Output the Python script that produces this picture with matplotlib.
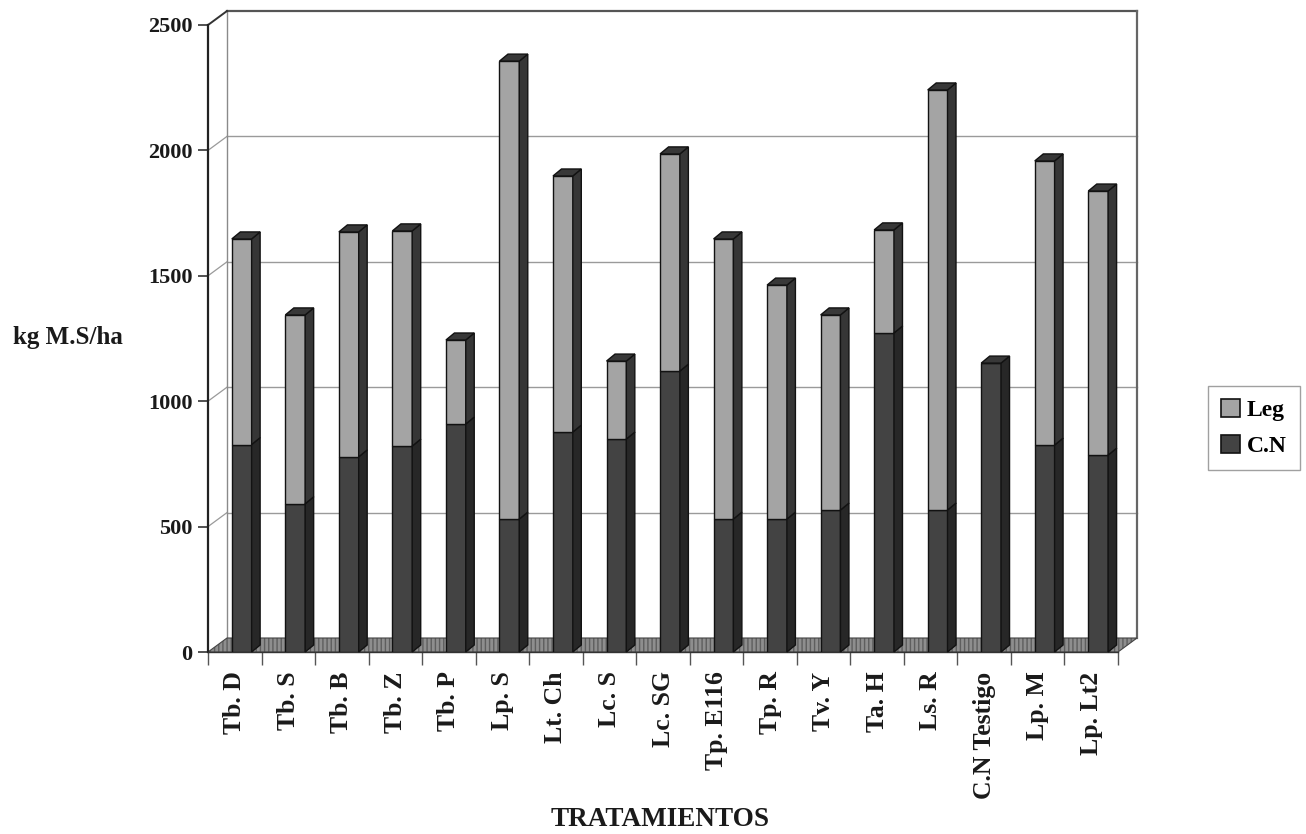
import matplotlib
matplotlib.use("Agg")
import matplotlib.pyplot as plt
from matplotlib.patches import Polygon, Patch
from matplotlib.lines import Line2D
from matplotlib.transforms import IdentityTransform
import numpy as np

plt.rcParams['font.family'] = ['Liberation Serif', 'DejaVu Serif']
plt.rcParams['font.weight'] = 'bold'

categories = ["Tb. D", "Tb. S", "Tb. B", "Tb. Z", "Tb. P", "Lp. S", "Lt. Ch", "Lc. S",
              "Lc. SG", "Tp. E116", "Tp. R", "Tv. Y", "Ta. H", "Ls. R", "C.N Testigo",
              "Lp. M", "Lp. Lt2"]
cn = [827, 591, 778, 821, 909, 530, 877, 849, 1120, 530, 530, 566, 1272, 566, 1152, 825, 785]
total = [1647, 1344, 1675, 1679, 1244, 2356, 1898, 1160, 1986, 1647, 1463, 1344, 1683, 2241, 1152, 1958, 1838]
leg = [t - c for t, c in zip(total, cn)]
yticks = [0, 500, 1000, 1500, 2000, 2500]
series_names = ["Leg", "C.N"]

W, H = 1306, 834
fig = plt.figure(figsize=(W / 100, H / 100), dpi=100)
ax = fig.add_axes([208 / W, (H - 652) / H, 910 / W, 627 / H])
n = len(categories)
ax.set_xlim(0, n)
ax.set_ylim(0, 2500)
ax.set_autoscale_on(False)
ax.patch.set_visible(False)
for s in ['top', 'right']:
    ax.spines[s].set_visible(False)
ax.spines['left'].set_color('#222222')
ax.spines['left'].set_linewidth(1.6)
ax.spines['bottom'].set_color('#333333')
ax.spines['bottom'].set_linewidth(1.0)

col_cn, col_cn_side = '#434343', '#272727'
col_leg, col_leg_side = '#a4a4a4', '#363636'
col_top = '#383838'
edge = '#121212'

WALL_DX, WALL_DY = 19, 14
BAR_DX, BAR_DY = 8.5, 7

fig.canvas.draw()
T = ax.transData


def disp(x, y):
    return T.transform((x, y))


def add_poly(pts, **kw):
    p = Polygon(np.array(pts), closed=True, transform=IdentityTransform(), clip_on=False, **kw)
    ax.add_artist(p)
    return p


def add_line(pts, **kw):
    pts = np.array(pts)
    l = Line2D(pts[:, 0], pts[:, 1], transform=IdentityTransform(), clip_on=False, **kw)
    ax.add_artist(l)
    return l

# back wall
bl = disp(0, 0) + [WALL_DX, WALL_DY]
br = disp(n, 0) + [WALL_DX, WALL_DY]
tl = disp(0, 2500) + [WALL_DX, WALL_DY]
tr = disp(n, 2500) + [WALL_DX, WALL_DY]
for v in yticks[1:-1]:
    a = disp(0, v) + [WALL_DX, WALL_DY]
    b = disp(n, v) + [WALL_DX, WALL_DY]
    add_line([a, b], color='#9a9a9a', lw=1.0, zorder=0.6)
    f = disp(0, v)
    add_line([f, a], color='#9a9a9a', lw=0.9, zorder=0.6)
add_line([bl, tl], color='#8a8a8a', lw=1.0, zorder=0.7)
add_line([tl, tr], color='#555555', lw=1.6, zorder=0.7)
add_line([tr, br], color='#666666', lw=1.6, zorder=0.7)
add_line([disp(0, 2500), tl], color='#333333', lw=1.4, zorder=0.7)

# floor
f0, f1 = disp(0, 0), disp(n, 0)
floor = [f0, f1, f1 + [WALL_DX, WALL_DY], f0 + [WALL_DX, WALL_DY]]
add_poly(floor, facecolor='#8e8e8e', edgecolor='#5e5e5e', hatch='||||', lw=0, zorder=0.8)
add_poly(floor, facecolor='none', edgecolor='#444444', lw=0.8, zorder=0.85)

# bars (front faces via ax.bar)
xc = np.arange(n) + 0.63
bw = 0.37
ax.bar(xc, cn, width=bw, color=col_cn, edgecolor=edge, linewidth=1.0, zorder=3, label="C.N")
ax.bar(xc, leg, bottom=cn, width=bw, color=col_leg, edgecolor=edge, linewidth=1.0, zorder=3, label="Leg")

# side and top faces
for i in range(n):
    xl, xr = xc[i] - bw / 2, xc[i] + bw / 2
    segs = [(0, cn[i], col_cn_side), (cn[i], total[i], col_leg_side)]
    for y0, y1, c in segs:
        if y1 - y0 <= 0:
            continue
        p0, p1 = disp(xr, y0), disp(xr, y1)
        add_poly([p0, p1, p1 + [BAR_DX, BAR_DY], p0 + [BAR_DX, BAR_DY]],
                 facecolor=c, edgecolor=edge, lw=1.0, zorder=3)
    q0, q1 = disp(xl, total[i]), disp(xr, total[i])
    add_poly([q0, q1, q1 + [BAR_DX, BAR_DY], q0 + [BAR_DX, BAR_DY]],
             facecolor=col_top, edgecolor=edge, lw=1.0, zorder=3)

# ticks
ax.set_yticks(yticks)
ax.set_yticklabels([str(v) for v in yticks], fontsize=16, fontweight='bold', color='#1a1a1a')
ax.tick_params(axis='y', length=7, width=1.2, pad=4, color='#333333')
ax.set_xticks(np.arange(n) + 0.5)
ax.set_xticklabels(categories, rotation=90, fontsize=18.5, fontweight='bold', color='#1a1a1a', va='top')
ax.set_xticks(np.arange(n + 1), minor=True)
ax.tick_params(axis='x', which='major', length=0, pad=14)
ax.tick_params(axis='x', which='minor', length=9, width=1.0, color='#555555')

fig.text(68 / W, 1 - 338 / H, "kg M.S/ha", ha='center', va='center', fontsize=18,
         fontweight='bold', color='#1a1a1a')
fig.text(660 / W, 1 - 820 / H, "TRATAMIENTOS", ha='center', va='center', fontsize=19.5,
         fontweight='bold', color='#1a1a1a')

handles = [Patch(facecolor=col_leg, edgecolor=edge, linewidth=1.2),
           Patch(facecolor=col_cn, edgecolor=edge, linewidth=1.2)]
lg = fig.legend(handles, series_names, loc='center', bbox_to_anchor=(1254 / W, 1 - 428 / H),
                fontsize=17, frameon=True, fancybox=False, handlelength=0.8, handleheight=0.8,
                handletextpad=0.3, labelspacing=0.6, borderpad=0.55)
lg.get_frame().set_edgecolor('#888888')
lg.get_frame().set_linewidth(1.0)
for t in lg.get_texts():
    t.set_fontweight('bold')

fig.savefig("out.png", dpi=100)
